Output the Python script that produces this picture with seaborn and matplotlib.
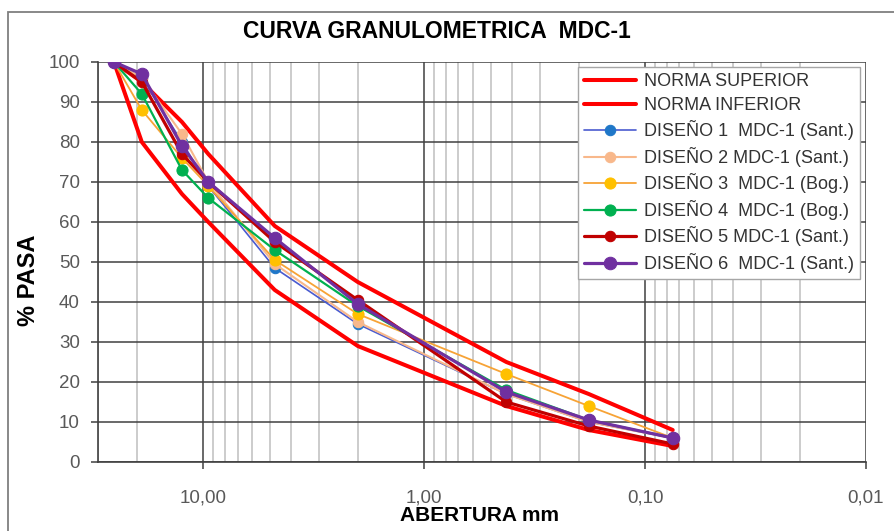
import matplotlib
matplotlib.use("Agg")
import matplotlib.pyplot as plt
from matplotlib.patches import Rectangle
from matplotlib.ticker import FixedLocator, LogLocator, NullFormatter
import numpy as np
import pandas as pd
import seaborn as sns

# Sieve openings (mm) and percent passing
abertura = [25.4, 19.0, 12.5, 9.5, 4.75, 2.0, 0.425, 0.18, 0.075]
norma_superior = [100, 95, 85, 77, 59, 45, 25, 17, 8]
norma_inferior = [100, 80, 67, 60, 43, 29, 14, 8, 4]
diseno_1 = [100, 96, 80, 69, 48.5, 34.5, 17, 10, 6]
diseno_2 = [100, 96, 82, 70, 49.5, 35, 17, 10, 6]
diseno_3 = [100, 88, 76, 69, 50.5, 37, 22, 14, 6]
diseno_4 = [100, 92, 73, 66, 53, 39, 18, 10.5, 6]
diseno_5 = [100, 95, 77, 70, 55, 40.5, 15, 9, 4.5]
diseno_6 = [100, 97, 79, 70, 56, 39.5, 17.5, 10.5, 6]

x_ticks = [10, 1, 0.1, 0.01]
x_tick_labels = ["10,00", "1,00", "0,10", "0,01"]
y_ticks = list(range(0, 101, 10))

series = [
    ("NORMA SUPERIOR", norma_superior, dict(color="#FF0000", lw=2.9, marker=None, ms=0, mfc=None)),
    ("NORMA INFERIOR", norma_inferior, dict(color="#FF0000", lw=2.9, marker=None, ms=0, mfc=None)),
    ("DISEÑO 1  MDC-1 (Sant.)", diseno_1, dict(color="#4A5BD0", lw=1.2, marker="o", ms=7.5, mfc="#1F77C8")),
    ("DISEÑO 2 MDC-1 (Sant.)", diseno_2, dict(color="#F8B88B", lw=1.5, marker="o", ms=7.5, mfc="#F8B88B")),
    ("DISEÑO 3  MDC-1 (Bog.)", diseno_3, dict(color="#F7A336", lw=1.3, marker="o", ms=8, mfc="#FFC000")),
    ("DISEÑO 4  MDC-1 (Bog.)", diseno_4, dict(color="#00B050", lw=1.6, marker="o", ms=8, mfc="#00B050")),
    ("DISEÑO 5 MDC-1 (Sant.)", diseno_5, dict(color="#C00000", lw=2.3, marker="o", ms=7.5, mfc="#C00000")),
    ("DISEÑO 6  MDC-1 (Sant.)", diseno_6, dict(color="#7030A0", lw=2.3, marker="o", ms=9, mfc="#7030A0")),
]

sns.set_theme(style="white")
plt.rcParams["font.family"] = ["Liberation Sans", "DejaVu Sans"]

fig = plt.figure(figsize=(8.95, 5.31), dpi=100)
ax = fig.add_axes([98 / 895, 1 - 462 / 531, 768 / 895, 400 / 531])

for name, values, st in series:
    df = pd.DataFrame({"abertura": abertura, "pasa": values})
    kw = dict(data=df, x="abertura", y="pasa", ax=ax, color=st["color"],
              linewidth=st["lw"], label=name, sort=False, estimator=None)
    if st["marker"]:
        kw.update(marker=st["marker"], markersize=st["ms"],
                  markerfacecolor=st["mfc"], markeredgecolor=st["mfc"])
    sns.lineplot(**kw)

ax.set_xscale("log")
ax.set_xlim(30, 0.01)
ax.set_ylim(0, 100)

ax.xaxis.set_major_locator(FixedLocator(x_ticks))
ax.set_xticklabels(x_tick_labels)
ax.xaxis.set_minor_locator(LogLocator(base=10, subs=np.arange(2, 10)))
ax.xaxis.set_minor_formatter(NullFormatter())
ax.set_yticks(y_ticks)

ax.grid(True, which="major", axis="both", color="#404040", linewidth=1.1)
ax.grid(True, which="minor", axis="x", color="#C4C4C4", linewidth=1.2)
ax.set_axisbelow(True)

for side in ("top", "right"):
    ax.spines[side].set_visible(False)
for side in ("left", "bottom"):
    ax.spines[side].set_color("#404040")
    ax.spines[side].set_linewidth(1.2)

ax.tick_params(axis="both", which="major", direction="out", length=5, width=1.1,
               color="#404040", labelsize=13.5, labelcolor="#595959", pad=8)
ax.tick_params(axis="x", which="major", pad=15)
ax.tick_params(axis="x", which="minor", length=0)
ax.tick_params(axis="y", left=True)
ax.tick_params(axis="x", bottom=True)

ax.set_xlabel("ABERTURA mm", fontsize=15, fontweight="bold", color="#000000")
ax.set_ylabel("% PASA", fontsize=17, fontweight="bold", color="#000000")
ax.xaxis.set_label_coords((480 - 98) / 768, -(506 - 462) / 400)
ax.yaxis.set_label_coords(-(98 - 40) / 768, (462 - 280) / 400)

fig.text(437 / 895, 1 - 32 / 531, "CURVA GRANULOMETRICA  MDC-1", ha="center", va="center",
         fontsize=16.5, fontweight="bold", color="#000000")

leg = ax.legend(loc="upper right", bbox_to_anchor=(1 - 6 / 768, 1 - 5 / 400),
                borderaxespad=0, fontsize=13, frameon=True, fancybox=False,
                handlelength=2.9, handletextpad=0.4, labelspacing=0.36,
                borderpad=0.35)
leg.get_frame().set_edgecolor("#A6A6A6")
leg.get_frame().set_linewidth(1.0)
leg.get_frame().set_facecolor("white")
leg.get_frame().set_alpha(1)
for t in leg.get_texts():
    t.set_color("#333333")

# Chart area border
fig.patches.append(Rectangle((8 / 895, -0.05), 1.2, 1 - 12 / 531 + 0.05,
                             transform=fig.transFigure, fill=False,
                             edgecolor="#7F7F7F", linewidth=1.3))

fig.savefig("out.png", dpi=100)
